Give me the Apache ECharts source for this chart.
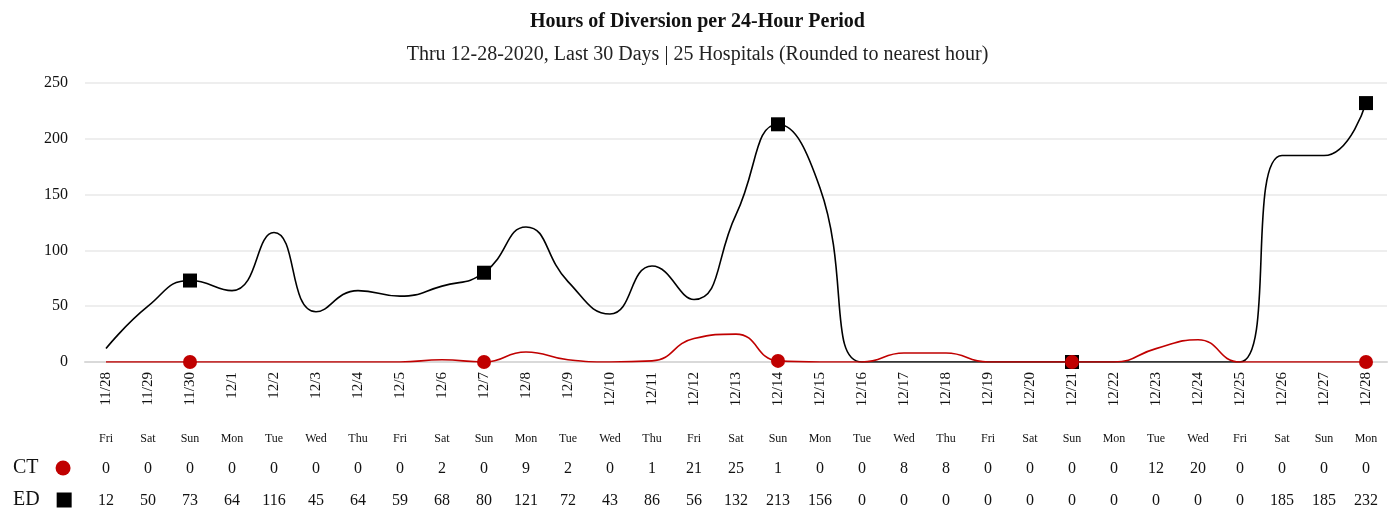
<!DOCTYPE html>
<html>
<head>
<meta charset="utf-8">
<script src="https://cdn.jsdelivr.net/npm/echarts@6/dist/echarts.min.js"></script>
<style>
  html, body { margin: 0; padding: 0; background: #fff; }
  #chart { width: 1395px; height: 510px; }
</style>
</head>
<body>
<div id="chart"></div>
<script>
var dates = ['11/28','11/29','11/30','12/1','12/2','12/3','12/4','12/5','12/6','12/7','12/8','12/9','12/10','12/11','12/12',
  '12/13','12/14','12/15','12/16','12/17','12/18','12/19','12/20','12/21','12/22','12/23','12/24','12/25','12/26','12/27','12/28'];
var days = ['Fri','Sat','Sun','Mon','Tue','Wed','Thu','Fri','Sat','Sun','Mon','Tue','Wed','Thu','Fri',
  'Sat','Sun','Mon','Tue','Wed','Thu','Fri','Sat','Sun','Mon','Tue','Wed','Fri','Sat','Sun','Mon'];
var ct = [0,0,0,0,0,0,0,0,2,0,9,2,0,1,21,25,1,0,0,8,8,0,0,0,0,12,20,0,0,0,0];
var ed = [12,50,73,64,116,45,64,59,68,80,121,72,43,86,56,132,213,156,0,0,0,0,0,0,0,0,0,0,185,185,232];

var font = '"Liberation Serif", "Times New Roman", serif';
var chart = echarts.init(document.getElementById('chart'));

// markers once a week (11/30, 12/7, ... 12/28)
function mark(size) {
  return function (v, p) { return p.dataIndex % 7 === 2 ? size : 0; };
}

function tableAxis(labels, offset, size) {
  return {
    type: 'category', data: labels, position: 'bottom', offset: offset,
    axisLine: { show: false }, axisTick: { show: false }, splitLine: { show: false },
    axisLabel: { interval: 0, fontFamily: font, fontSize: size, color: '#111', margin: 8 }
  };
}

function legendRow(name, icon, top) {
  return {
    data: [{ name: name, icon: icon }], left: 8, top: top, align: 'right',
    itemWidth: 15, itemHeight: 15, selectedMode: false,
    textStyle: { fontFamily: font, fontSize: 20, color: '#111', padding: [0, 12, 0, 0] }
  };
}

chart.setOption({
  animation: false,
  title: [
    { text: 'Hours of Diversion per 24-Hour Period', left: 'center', top: 7,
      textStyle: { fontFamily: font, fontSize: 20, fontWeight: 'bold', color: '#111' } },
    { text: 'Thru 12-28-2020, Last 30 Days | 25 Hospitals (Rounded to nearest hour)', left: 'center', top: 40,
      textStyle: { fontFamily: font, fontSize: 20, fontWeight: 'normal', color: '#222' } }
  ],
  legend: [legendRow('CT', 'circle', 453), legendRow('ED', 'rect', 485)],
  grid: { left: 85, right: 8, top: 83, bottom: 148 },
  xAxis: [
    {
      type: 'category', data: dates,
      axisLine: { lineStyle: { color: '#d9d9d9', width: 2 } },
      axisTick: { show: false },
      axisLabel: { interval: 0, rotate: 90, fontFamily: font, fontSize: 15, color: '#111', margin: 10 }
    },
    tableAxis(days, 63, 12),
    tableAxis(ct, 91, 16),
    tableAxis(ed, 123, 16)
  ],
  yAxis: {
    type: 'value', min: 0, max: 250, interval: 50,
    axisLine: { show: false }, axisTick: { show: false },
    splitLine: { lineStyle: { color: '#eeeeee', width: 2 } },
    axisLabel: { fontFamily: font, fontSize: 16, color: '#111', margin: 17 }
  },
  series: [
    {
      name: 'ED', type: 'line', data: ed, smooth: 0.5,
      symbol: 'rect', symbolSize: mark(14), showAllSymbol: true,
      lineStyle: { color: '#000', width: 1.6 },
      itemStyle: { color: '#000' }
    },
    {
      name: 'CT', type: 'line', data: ct, smooth: 0.5, z: 3,
      symbol: 'circle', symbolSize: mark(14), showAllSymbol: true,
      lineStyle: { color: '#c00000', width: 1.6 },
      itemStyle: { color: '#c00000' }
    }
  ]
});
</script>
</body>
</html>
